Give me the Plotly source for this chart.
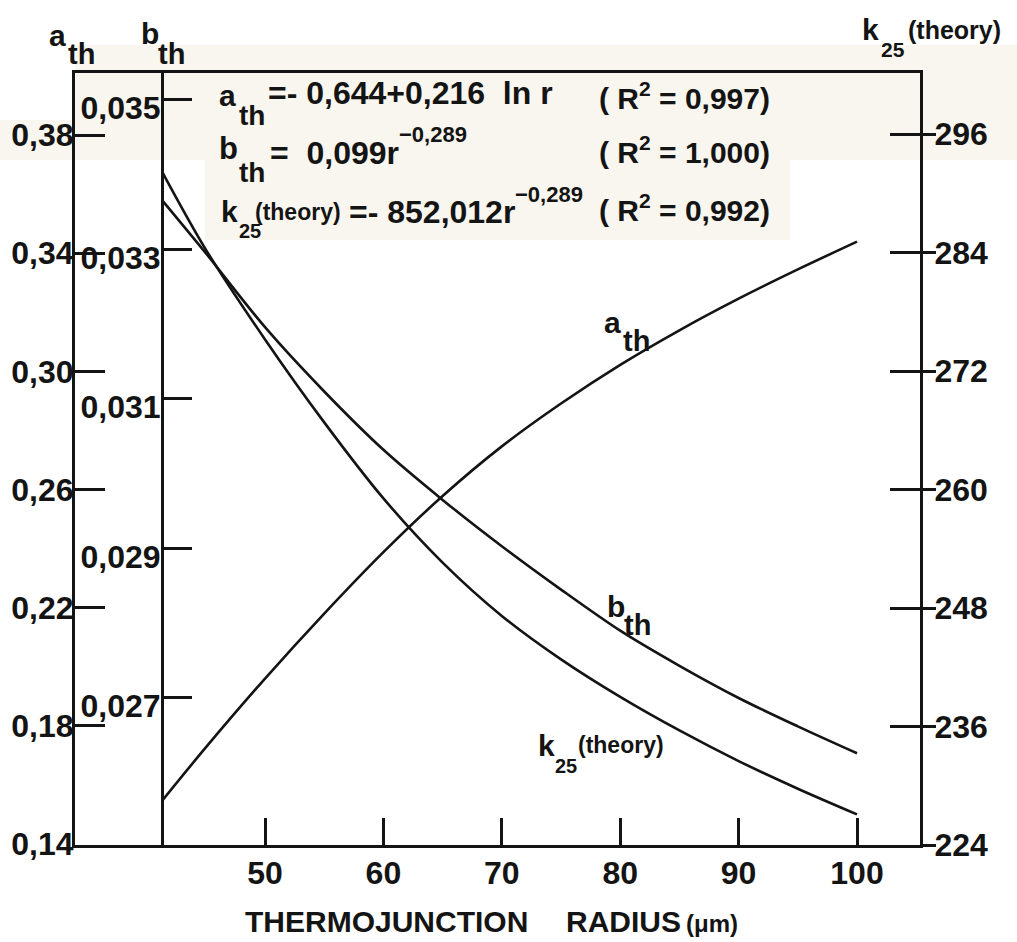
import plotly.graph_objects as go

# ---------------- data ----------------
radius = [41.3, 45, 50, 55, 60, 65, 70, 75, 80, 85, 90, 95, 100]
a_th = [0.1546, 0.1727, 0.1960, 0.2180, 0.2388, 0.2578, 0.2746, 0.2891,
        0.3022, 0.3139, 0.3246, 0.3345, 0.3439]
b_th = [0.03366, 0.03295, 0.03196, 0.03110, 0.03032, 0.02965, 0.02903,
        0.02845, 0.02790, 0.02743, 0.02700, 0.02662, 0.02626]
k25_theory = [292.2, 284.3, 275.2, 266.8, 259.1, 252.6, 247.2, 242.8,
              239.0, 235.6, 232.5, 229.7, 227.1]

x_ticks = [50, 60, 70, 80, 90, 100]
x_labels = ["50", "60", "70", "80", "90", "100"]
a_ticks = [0.14, 0.18, 0.22, 0.26, 0.30, 0.34, 0.38]
a_labels = ["0,14", "0,18", "0,22", "0,26", "0,30", "0,34", "0,38"]
b_ticks = [0.027, 0.029, 0.031, 0.033, 0.035]
b_labels = ["0,027", "0,029", "0,031", "0,033", "0,035"]
k_ticks = [224, 236, 248, 260, 272, 284, 296]
k_labels = ["224", "236", "248", "260", "272", "284", "296"]

# ---------------- styling ----------------
INK = "#141414"
FONT = "Liberation Sans, Arial, Helvetica, sans-serif"
W, H = 1017, 942
L, T, R, B = 75, 73, 920, 845  # plot box in pixels


def fx(px):
    return (px - L) / (R - L)


def fy(py):
    return (B - py) / (B - T)


fig = go.Figure()
line_style = dict(color=INK, width=2.6, shape="spline", smoothing=0.9)
fig.add_trace(go.Scatter(x=radius, y=a_th, mode="lines", line=line_style,
                         yaxis="y", hoverinfo="skip"))
fig.add_trace(go.Scatter(x=radius, y=b_th, mode="lines", line=line_style,
                         yaxis="y2", hoverinfo="skip"))
fig.add_trace(go.Scatter(x=radius, y=k25_theory, mode="lines", line=line_style,
                         yaxis="y3", hoverinfo="skip"))
fig.add_trace(go.Scatter(x=radius, y=k25_theory, mode="lines",
                         line=dict(width=0, color="rgba(0,0,0,0)"),
                         yaxis="y4", hoverinfo="skip"))

tickfont = dict(family=FONT, size=32, color=INK, weight="bold")
common = dict(showgrid=False, zeroline=False, linecolor=INK, tickcolor=INK,
              tickwidth=2.5, tickfont=tickfont, automargin=False)

fig.update_layout(
    width=W, height=H,
    margin=dict(l=L, r=W - R, t=T, b=H - B, pad=0, autoexpand=False),
    paper_bgcolor="white", plot_bgcolor="rgba(0,0,0,0)",
    showlegend=False,
    font=dict(family=FONT, color=INK),
    xaxis=dict(domain=[0, 1], range=[33.95, 105.32], showline=True, linewidth=3,
               mirror=True, ticks="inside", ticklen=27, tickvals=x_ticks,
               ticktext=x_labels, ticklabelstandoff=-2, **common),
    yaxis=dict(range=[0.13966, 0.40099], side="left", anchor="x", showline=True,
               linewidth=3, ticks="inside", ticklen=30, tickvals=a_ticks,
               ticktext=a_labels, ticklabelstandoff=-8, **common),
    yaxis2=dict(range=[0.025033, 0.035361], overlaying="y", anchor="free",
                position=fx(162), side="left", showline=True, linewidth=3,
                ticks="inside", ticklen=28, tickvals=b_ticks, ticktext=b_labels,
                ticklabelstandoff=-6, ticklabelshift=8, **common),
    yaxis3=dict(range=[224, 302.18], overlaying="y", anchor="x", side="right",
                showline=True, linewidth=3, ticks="outside", ticklen=13,
                tickvals=k_ticks, ticktext=k_labels, ticklabelstandoff=-8, **common),
    yaxis4=dict(range=[224, 302.18], overlaying="y", anchor="x", side="right",
                showline=False, ticks="inside", ticklen=30, tickvals=k_ticks,
                showticklabels=False, **common),
)

# faint cream scan tint behind the formula block
cream = "#f8f6ee"
for (x0, y0, x1, y1) in [(75, 45, 1017, 160), (0, 120, 75, 160), (205, 160, 790, 240)]:
    fig.add_shape(type="rect", xref="paper", yref="paper", x0=fx(x0), x1=fx(x1),
                  y0=fy(y1), y1=fy(y0), fillcolor=cream, line=dict(width=0),
                  layer="below")


def txt(text, px, py, size, xa="left", ya="middle"):
    fig.add_annotation(text=text, x=fx(px), y=fy(py), xref="paper", yref="paper",
                       xanchor=xa, yanchor=ya, showarrow=False,
                       font=dict(family=FONT, size=size, color=INK, weight="bold"))


# axis headers
txt("a", 57, 35, 30, "center")
txt("th", 81, 54, 29, "center")
txt("b", 150, 33, 30, "center")
txt("th", 171, 54, 29, "center")
txt("k", 870, 29, 30, "center")
txt("25", 893, 50, 21, "center")
txt("(theory)", 906, 30, 25)

# formula block
txt("a", 217, 95, 30)
txt("th", 237, 116, 28)
txt("=- 0,644+0,216  ln r", 266, 93, 32)
txt("( R<sup>2</sup> = 0,997)", 772, 96, 30, "right")
txt("b", 217, 148, 31)
txt("th", 237, 172, 28)
txt("=  0,099r", 268, 153, 32)
txt("−0,289", 397, 135, 22)
txt("( R<sup>2</sup> = 1,000)", 772, 150, 30, "right")
txt("k", 219, 212, 30)
txt("25", 237, 231, 20)
txt("(theory)", 253, 212, 23)
txt("=- 852,012r", 347, 212, 32)
txt("−0,289", 513, 194, 22)
txt("( R<sup>2</sup> = 0,992)", 772, 208, 30, "right")

# curve labels
txt("a", 612, 322, 30, "center")
txt("th", 636, 341, 29, "center")
txt("b", 616, 606, 30, "center")
txt("th", 637, 625, 29, "center")
txt("k", 546, 745, 30, "center")
txt("25", 566, 766, 20, "center")
txt("(theory)", 576, 745, 23)

# x-axis title
txt("THERMOJUNCTION", 243, 922, 30)
txt("RADIUS", 564, 922, 30)
txt("(μm)", 684, 924, 24)

fig.write_html("out.html", config={"displayModeBar": False},
               post_script="document.body.style.margin='0px';")
